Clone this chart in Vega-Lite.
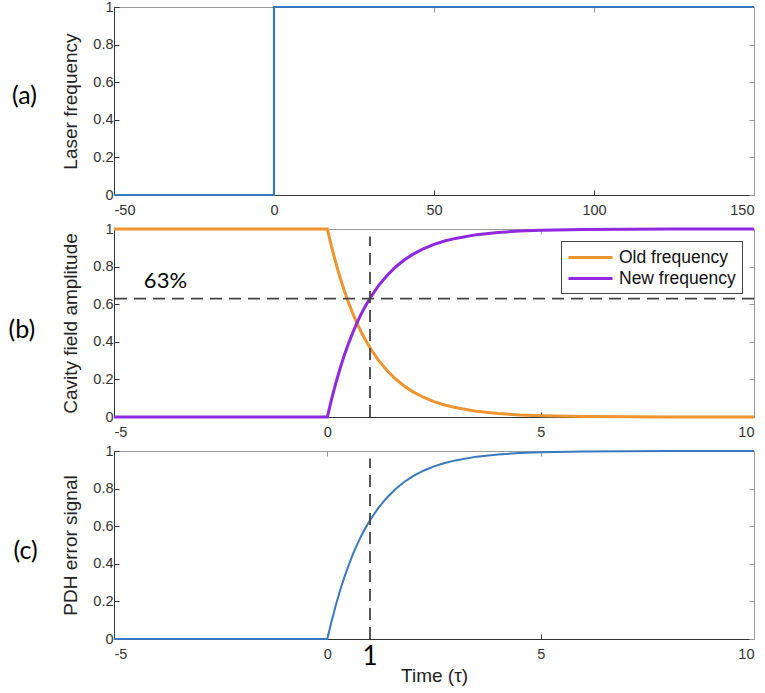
{
  "$schema": "https://vega.github.io/schema/vega-lite/v6.json",
  "autosize": {"type": "pad"},
  "padding": {"left": 8, "top": -1, "right": 0, "bottom": 0},
  "background": "white",
  "spacing": 34,
  "bounds": "flush",
  "resolve": {"legend": {"color": "independent"}},
  "config": {
    "view": {"stroke": null},
    "axis": {
      "grid": false,
      "labelFont": "Liberation Sans",
      "labelFontSize": 14.5,
      "labelColor": "#333333",
      "titleFont": "Liberation Sans",
      "titleFontSize": 19,
      "titleFontWeight": "normal",
      "titleColor": "#222222",
      "domainColor": "#333333",
      "domainWidth": 1,
      "tickColor": "#333333",
      "tickSize": -5
    },
    "axisX": {"labelPadding": 13, "titlePadding": 6},
    "axisY": {"labelPadding": 6, "titlePadding": 12}
  },
  "datasets": {
    "step": [
      {"t": -50, "f": 0},
      {"t": 0, "f": 1},
      {"t": 150, "f": 1}
    ],
    "cavity": [
      {"t": -5, "series": "Old frequency", "v": 1},
      {"t": 0, "series": "Old frequency", "v": 1},
      {"t": 0.1, "series": "Old frequency", "v": 0.905},
      {"t": 0.2, "series": "Old frequency", "v": 0.819},
      {"t": 0.3, "series": "Old frequency", "v": 0.741},
      {"t": 0.4, "series": "Old frequency", "v": 0.67},
      {"t": 0.5, "series": "Old frequency", "v": 0.607},
      {"t": 0.6, "series": "Old frequency", "v": 0.549},
      {"t": 0.7, "series": "Old frequency", "v": 0.497},
      {"t": 0.8, "series": "Old frequency", "v": 0.449},
      {"t": 0.9, "series": "Old frequency", "v": 0.407},
      {"t": 1.0, "series": "Old frequency", "v": 0.368},
      {"t": 1.2, "series": "Old frequency", "v": 0.301},
      {"t": 1.4, "series": "Old frequency", "v": 0.247},
      {"t": 1.6, "series": "Old frequency", "v": 0.202},
      {"t": 1.8, "series": "Old frequency", "v": 0.165},
      {"t": 2.0, "series": "Old frequency", "v": 0.135},
      {"t": 2.25, "series": "Old frequency", "v": 0.105},
      {"t": 2.5, "series": "Old frequency", "v": 0.082},
      {"t": 2.75, "series": "Old frequency", "v": 0.064},
      {"t": 3.0, "series": "Old frequency", "v": 0.05},
      {"t": 3.5, "series": "Old frequency", "v": 0.03},
      {"t": 4.0, "series": "Old frequency", "v": 0.018},
      {"t": 4.5, "series": "Old frequency", "v": 0.011},
      {"t": 5.0, "series": "Old frequency", "v": 0.007},
      {"t": 6.0, "series": "Old frequency", "v": 0.0025},
      {"t": 7.0, "series": "Old frequency", "v": 0.001},
      {"t": 8.0, "series": "Old frequency", "v": 0.0003},
      {"t": 10, "series": "Old frequency", "v": 0},
      {"t": -5, "series": "New frequency", "v": 0},
      {"t": 0, "series": "New frequency", "v": 0},
      {"t": 0.1, "series": "New frequency", "v": 0.095},
      {"t": 0.2, "series": "New frequency", "v": 0.181},
      {"t": 0.3, "series": "New frequency", "v": 0.259},
      {"t": 0.4, "series": "New frequency", "v": 0.33},
      {"t": 0.5, "series": "New frequency", "v": 0.393},
      {"t": 0.6, "series": "New frequency", "v": 0.451},
      {"t": 0.7, "series": "New frequency", "v": 0.503},
      {"t": 0.8, "series": "New frequency", "v": 0.551},
      {"t": 0.9, "series": "New frequency", "v": 0.593},
      {"t": 1.0, "series": "New frequency", "v": 0.632},
      {"t": 1.2, "series": "New frequency", "v": 0.699},
      {"t": 1.4, "series": "New frequency", "v": 0.753},
      {"t": 1.6, "series": "New frequency", "v": 0.798},
      {"t": 1.8, "series": "New frequency", "v": 0.835},
      {"t": 2.0, "series": "New frequency", "v": 0.865},
      {"t": 2.25, "series": "New frequency", "v": 0.895},
      {"t": 2.5, "series": "New frequency", "v": 0.918},
      {"t": 2.75, "series": "New frequency", "v": 0.936},
      {"t": 3.0, "series": "New frequency", "v": 0.95},
      {"t": 3.5, "series": "New frequency", "v": 0.97},
      {"t": 4.0, "series": "New frequency", "v": 0.982},
      {"t": 4.5, "series": "New frequency", "v": 0.989},
      {"t": 5.0, "series": "New frequency", "v": 0.993},
      {"t": 6.0, "series": "New frequency", "v": 0.9975},
      {"t": 7.0, "series": "New frequency", "v": 0.999},
      {"t": 8.0, "series": "New frequency", "v": 0.9997},
      {"t": 10, "series": "New frequency", "v": 1}
    ]
  },
  "vconcat": [
    {
      "width": 640,
      "height": 188,
      "title": {"text": "(a)", "orient": "left", "angle": 0, "anchor": "middle", "align": "right", "baseline": "middle", "offset": 0, "dy": -5, "font": "Lato", "fontSize": 25, "fontWeight": "normal", "color": "#000000"},
      "data": {"name": "step"},
      "layer": [
        {
          "mark": {"type": "line", "interpolate": "step-after", "color": "#3A78C0", "strokeWidth": 2.2},
          "encoding": {
            "x": {"field": "t", "type": "quantitative", "scale": {"domain": [-50, 150], "nice": false}, "axis": {"values": [-50, 0, 50, 100, 150], "title": null, "labelExpr": "'' + datum.value"}},
            "y": {"field": "f", "type": "quantitative", "scale": {"domain": [0, 1], "nice": false}, "axis": {"values": [0, 0.2, 0.4, 0.6, 0.8, 1], "title": "Laser frequency", "labelExpr": "'' + datum.value"}}
          }
        },
        {
          "mark": {"type": "point", "opacity": 0},
          "encoding": {
            "x": {"field": "t", "type": "quantitative", "axis": {"orient": "top", "values": [-50, 0, 50, 100, 150], "labels": false, "title": null, "domainColor": "#999999", "tickColor": "#999999"}},
            "y": {"field": "f", "type": "quantitative", "axis": {"orient": "right", "values": [0, 0.2, 0.4, 0.6, 0.8, 1], "labels": false, "title": null, "domainColor": "#999999", "tickColor": "#999999"}}
          }
        }
      ],
      "resolve": {"axis": {"x": "independent", "y": "independent"}}
    },
    {
      "width": 640,
      "height": 188,
      "title": {"text": "(b)", "orient": "left", "angle": 0, "anchor": "middle", "align": "right", "baseline": "middle", "offset": 0, "dy": 7, "font": "Lato", "fontSize": 25, "fontWeight": "normal", "color": "#000000"},
      "data": {"name": "cavity"},
      "layer": [
        {
          "mark": {"type": "line", "strokeWidth": 3},
          "encoding": {
            "x": {"field": "t", "type": "quantitative", "scale": {"domain": [-5, 10], "nice": false}, "axis": {"values": [-5, 0, 5, 10], "title": null, "labelExpr": "'' + datum.value"}},
            "y": {"field": "v", "type": "quantitative", "scale": {"domain": [0, 1], "nice": false}, "axis": {"values": [0, 0.2, 0.4, 0.6, 0.8, 1], "title": "Cavity field amplitude", "labelExpr": "'' + datum.value"}},
            "color": {
              "field": "series", "type": "nominal",
              "scale": {"domain": ["Old frequency", "New frequency"], "range": ["#EE9430", "#9028E0"]},
              "legend": {"orient": "top-right", "offset": 12, "title": null, "symbolType": "M-2.45,0H2.45", "symbolStrokeWidth": 3, "symbolSize": 324, "symbolOffset": 13, "labelFont": "Liberation Sans", "labelFontSize": 17.5, "labelColor": "#111111", "strokeColor": "#444444", "fillColor": "white", "padding": 6, "rowPadding": 2, "labelOffset": 18}
            }
          }
        },
        {
          "data": {"values": [{}]},
          "mark": {"type": "rule", "color": "#444444", "strokeWidth": 1.8, "strokeDash": [12, 7]},
          "encoding": {"y": {"datum": 0.63, "type": "quantitative", "axis": null}}
        },
        {
          "data": {"values": [{}]},
          "mark": {"type": "rule", "color": "#444444", "strokeWidth": 1.8, "strokeDash": [12, 7]},
          "encoding": {"x": {"datum": 1, "type": "quantitative", "axis": null}, "y": {"datum": 0, "type": "quantitative", "axis": null}, "y2": {"datum": 0.96}}
        },
        {
          "data": {"values": [{}]},
          "mark": {"type": "text", "text": "63%", "align": "left", "baseline": "middle", "font": "Lato", "fontSize": 22, "color": "#000000"},
          "encoding": {"x": {"datum": -4.3, "type": "quantitative", "axis": null}, "y": {"datum": 0.725, "type": "quantitative", "axis": null}}
        },
        {
          "mark": {"type": "point", "opacity": 0},
          "encoding": {
            "x": {"field": "t", "type": "quantitative", "axis": {"orient": "top", "values": [-5, 0, 5, 10], "labels": false, "title": null, "domainColor": "#999999", "tickColor": "#999999"}},
            "y": {"field": "v", "type": "quantitative", "axis": {"orient": "right", "values": [0, 0.2, 0.4, 0.6, 0.8, 1], "labels": false, "title": null, "domainColor": "#999999", "tickColor": "#999999"}}
          }
        }
      ],
      "resolve": {"axis": {"x": "independent", "y": "independent"}}
    },
    {
      "width": 640,
      "height": 188,
      "title": {"text": "(c)", "orient": "left", "angle": 0, "anchor": "middle", "align": "right", "baseline": "middle", "offset": 0, "dy": 6, "font": "Lato", "fontSize": 25, "fontWeight": "normal", "color": "#000000"},
      "data": {"name": "cavity"},
      "transform": [{"filter": "datum.series == 'New frequency'"}],
      "layer": [
        {
          "mark": {"type": "line", "color": "#3A78C0", "strokeWidth": 2},
          "encoding": {
            "x": {"field": "t", "type": "quantitative", "scale": {"domain": [-5, 10], "nice": false}, "axis": {"values": [-5, 0, 5, 10], "title": "Time (τ)", "labelExpr": "'' + datum.value"}},
            "y": {"field": "v", "type": "quantitative", "scale": {"domain": [0, 1], "nice": false}, "axis": {"values": [0, 0.2, 0.4, 0.6, 0.8, 1], "title": "PDH error signal", "labelExpr": "'' + datum.value"}}
          }
        },
        {
          "data": {"values": [{}]},
          "mark": {"type": "rule", "color": "#444444", "strokeWidth": 1.8, "strokeDash": [12, 7]},
          "encoding": {"x": {"datum": 1, "type": "quantitative", "axis": null}, "y": {"datum": 0, "type": "quantitative", "axis": null}, "y2": {"datum": 0.96}}
        },
        {
          "data": {"values": [{}]},
          "mark": {"type": "text", "text": "1", "align": "center", "baseline": "alphabetic", "dy": 26, "font": "Lato", "fontSize": 26, "color": "#000000"},
          "encoding": {"x": {"datum": 1, "type": "quantitative", "axis": null}, "y": {"datum": 0, "type": "quantitative", "axis": null}}
        },
        {
          "mark": {"type": "point", "opacity": 0},
          "encoding": {
            "x": {"field": "t", "type": "quantitative", "axis": {"orient": "top", "values": [-5, 0, 5, 10], "labels": false, "title": null, "domainColor": "#999999", "tickColor": "#999999"}},
            "y": {"field": "v", "type": "quantitative", "axis": {"orient": "right", "values": [0, 0.2, 0.4, 0.6, 0.8, 1], "labels": false, "title": null, "domainColor": "#999999", "tickColor": "#999999"}}
          }
        }
      ],
      "resolve": {"axis": {"x": "independent", "y": "independent"}}
    }
  ]
}
